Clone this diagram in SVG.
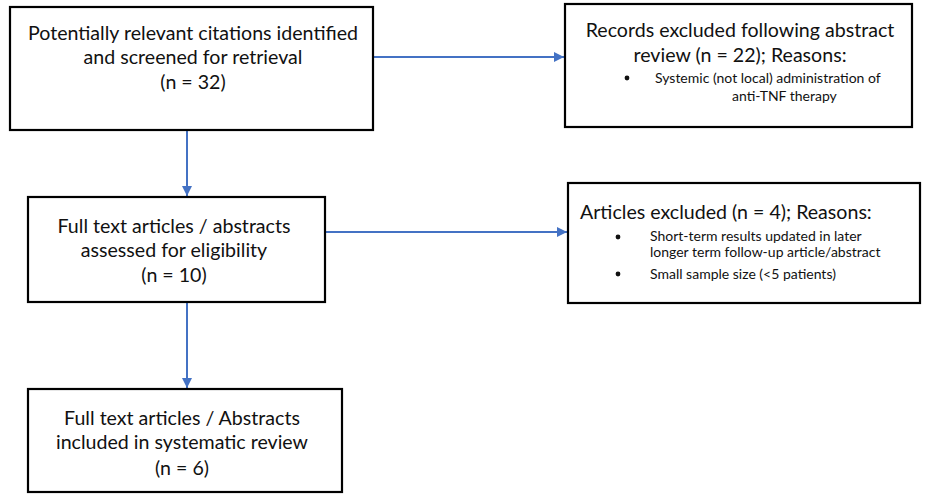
<svg xmlns="http://www.w3.org/2000/svg" width="928" height="494" viewBox="0 0 928 494">
  <style>
    .box { fill: #ffffff; stroke: #000000; stroke-width: 2.2; }
    .main { font-family: Lato, "Liberation Sans", sans-serif; font-size: 19.6px; fill: #111111; text-anchor: middle; }
    .head { font-family: Lato, "Liberation Sans", sans-serif; font-size: 19.6px; fill: #111111; }
    .small { font-family: Lato, "Liberation Sans", sans-serif; font-size: 14px; fill: #111111; }
    .link { fill: none; stroke: #4472C4; stroke-width: 2; }
    .dot { fill: #111111; }
  </style>
  <defs>
    <marker id="arrow" viewBox="0 0 10 10" refX="10" refY="5" markerWidth="5" markerHeight="5" orient="auto" markerUnits="strokeWidth">
      <path d="M0,0 L10,5 L0,10 z" fill="#4472C4"/>
    </marker>
  </defs>
  <rect x="0" y="0" width="928" height="494" fill="#ffffff"/>

  <g id="connectors">
    <line class="link" x1="374" y1="57" x2="564" y2="57" marker-end="url(#arrow)"/>
    <line class="link" x1="187" y1="131" x2="187" y2="196" marker-end="url(#arrow)"/>
    <line class="link" x1="326" y1="232" x2="567" y2="232" marker-end="url(#arrow)"/>
    <line class="link" x1="187" y1="303" x2="187" y2="388" marker-end="url(#arrow)"/>
  </g>

  <g id="identified">
    <rect class="box" x="10" y="7" width="363" height="123"/>
    <text class="main" x="193" y="40">Potentially relevant citations identified</text>
    <text class="main" x="193" y="64">and screened for retrieval</text>
    <text class="main" x="193" y="89">(n = 32)</text>
  </g>

  <g id="excluded-abstract">
    <rect class="box" x="565" y="4" width="347" height="123"/>
    <text class="main" x="740" y="37">Records excluded following abstract</text>
    <text class="main" x="740" y="62">review (n = 22); Reasons:</text>
    <circle class="dot" cx="627" cy="78" r="2.4"/>
    <text class="small" x="655" y="83">Systemic (not local) administration of</text>
    <text class="small" x="732" y="101">anti-TNF therapy</text>
  </g>

  <g id="assessed">
    <rect class="box" x="28" y="197" width="297" height="105"/>
    <text class="main" x="174" y="233">Full text articles / abstracts</text>
    <text class="main" x="174" y="257">assessed for eligibility</text>
    <text class="main" x="174" y="282">(n = 10)</text>
  </g>

  <g id="excluded-articles">
    <rect class="box" x="568" y="183" width="352" height="120"/>
    <text class="head" x="580" y="219">Articles excluded (n = 4); Reasons:</text>
    <circle class="dot" cx="618" cy="237" r="2.4"/>
    <text class="small" x="650" y="241">Short-term results updated in later</text>
    <text class="small" x="650" y="257">longer term follow-up article/abstract</text>
    <circle class="dot" cx="618" cy="274" r="2.4"/>
    <text class="small" x="650" y="279">Small sample size (&lt;5 patients)</text>
  </g>

  <g id="included">
    <rect class="box" x="28" y="389" width="314" height="103"/>
    <text class="main" x="182" y="425">Full text articles / Abstracts</text>
    <text class="main" x="182" y="449">included in systematic review</text>
    <text class="main" x="182" y="475">(n = 6)</text>
  </g>
</svg>
